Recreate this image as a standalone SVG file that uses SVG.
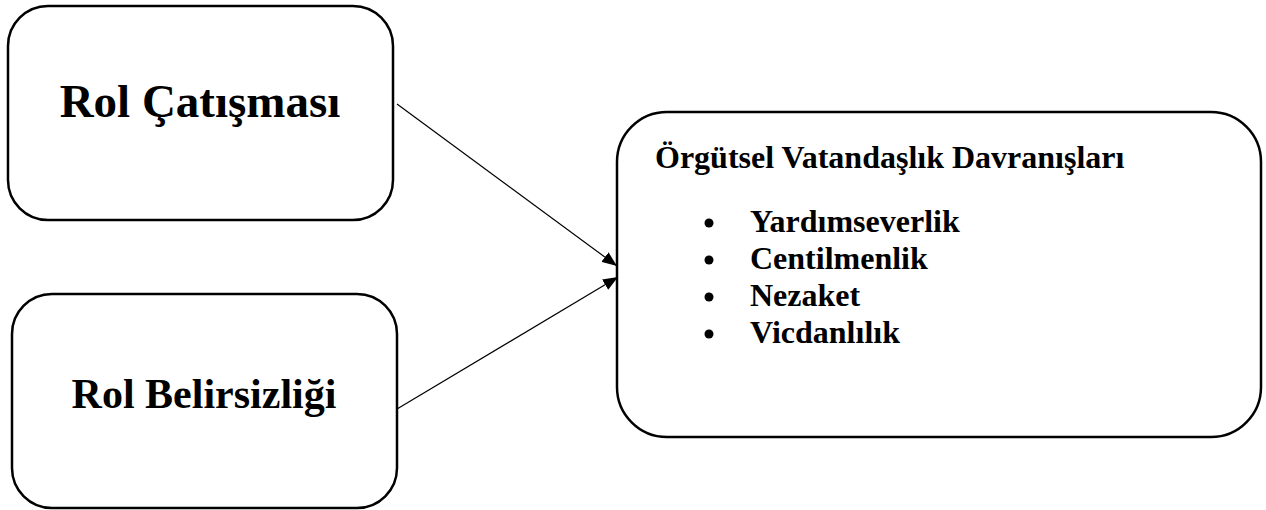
<svg xmlns="http://www.w3.org/2000/svg" width="1266" height="510" viewBox="0 0 1266 510">
  <style>
    .box { fill: #ffffff; stroke: #000000; stroke-width: 2.5; }
    .t { font-family: "Liberation Serif", "Times New Roman", serif; font-weight: bold; fill: #000000; }
    .conn { stroke: #000000; stroke-width: 1.2; fill: none; }
  </style>
  <defs>
    <marker id="arrow" viewBox="0 0 15 12" refX="15" refY="6" markerWidth="15" markerHeight="12" markerUnits="userSpaceOnUse" orient="auto">
      <path d="M0,0 L15,6 L0,12 Z" fill="#000000"/>
    </marker>
  </defs>
  <rect width="1266" height="510" fill="#ffffff"/>
  <g id="node-rol-catismasi">
    <rect class="box" x="8" y="6" width="385" height="214" rx="40" ry="40"/>
    <text class="t" x="200" y="117" font-size="47" text-anchor="middle">Rol Çatışması</text>
  </g>
  <g id="node-rol-belirsizligi">
    <rect class="box" x="12" y="294" width="385" height="214" rx="40" ry="40"/>
    <text class="t" x="204" y="408" font-size="42" text-anchor="middle">Rol Belirsizliği</text>
  </g>
  <g id="node-ovd">
    <rect class="box" x="617" y="112" width="644" height="325" rx="50" ry="50"/>
    <text class="t" x="655" y="168" font-size="32">Örgütsel Vatandaşlık Davranışları</text>
    <g font-size="32" class="t">
      <circle cx="709" cy="223" r="4.5"/>
      <text x="750" y="232">Yardımseverlik</text>
      <circle cx="709" cy="260" r="4.5"/>
      <text x="750" y="269">Centilmenlik</text>
      <circle cx="709" cy="297" r="4.5"/>
      <text x="750" y="306">Nezaket</text>
      <circle cx="709" cy="334" r="4.5"/>
      <text x="750" y="343">Vicdanlılık</text>
    </g>
  </g>
  <g id="connectors">
    <line class="conn" x1="397" y1="104" x2="617" y2="266" marker-end="url(#arrow)"/>
    <line class="conn" x1="397" y1="409" x2="618" y2="277" marker-end="url(#arrow)"/>
  </g>
</svg>
